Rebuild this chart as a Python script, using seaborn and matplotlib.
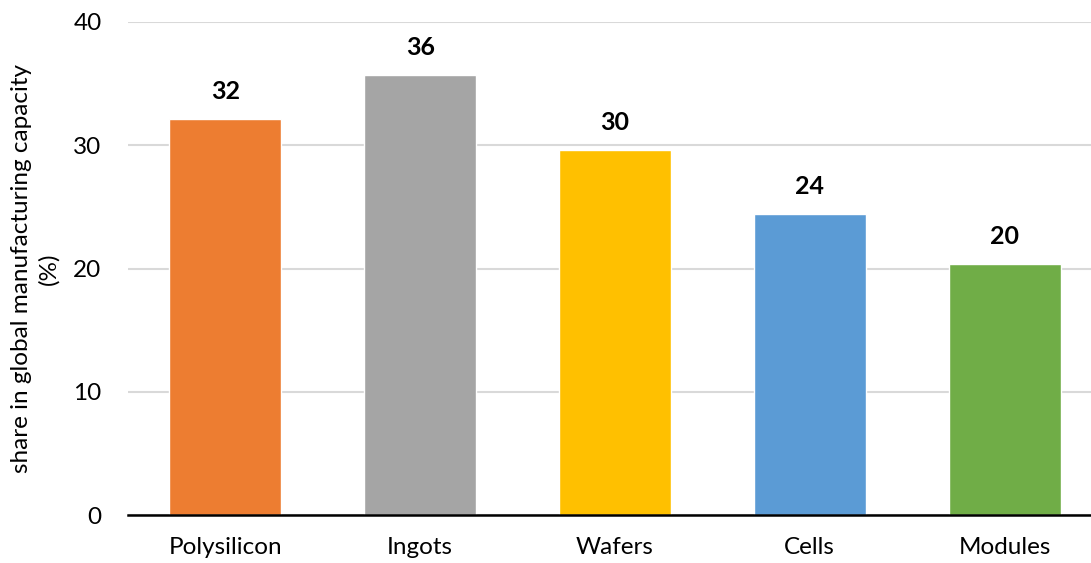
import matplotlib
matplotlib.use("Agg")
import matplotlib.pyplot as plt
import seaborn as sns
import pandas as pd

# Share of global PV manufacturing capacity by supply-chain stage
stages = ["Polysilicon", "Ingots", "Wafers", "Cells", "Modules"]
share = [32.1, 35.7, 29.6, 24.4, 20.4]
colors = ["#ED7D31", "#A5A5A5", "#FFC000", "#5B9BD5", "#70AD47"]
y_ticks = [0, 10, 20, 30, 40]

sns.set_theme(style="white")
plt.rcParams["font.family"] = ["Lato", "DejaVu Sans"]

df = pd.DataFrame({"stage": stages, "share": share})

fig = plt.figure(figsize=(10.91, 5.63), dpi=100)
ax = fig.add_axes([128 / 1091, 48 / 563, 974 / 1091, 493 / 563])

sns.barplot(data=df, x="stage", y="share", hue="stage", palette=colors,
            width=0.575, legend=False, ax=ax, saturation=1, zorder=3)

for i, v in enumerate(share):
    ax.text(i, v + 1.3, f"{v:.0f}", ha="center", va="bottom",
            fontsize=18, fontweight="bold", color="#000000")

ax.set_ylim(0, 40)
ax.set_xlim(-0.5, 4.5)
ax.set_yticks(y_ticks)
ax.yaxis.grid(True, color="#D9D9D9", linewidth=1.5, zorder=0)
ax.set_axisbelow(True)
for side in ["top", "right", "left"]:
    ax.spines[side].set_visible(False)
ax.spines["bottom"].set_color("#000000")
ax.spines["bottom"].set_linewidth(1.8)
ax.spines["bottom"].set_zorder(4)
ax.tick_params(axis="both", length=0, labelsize=17.5, colors="#000000")
ax.tick_params(axis="x", pad=16)
ax.tick_params(axis="y", pad=19)
ax.set_xlabel("")
ax.set_ylabel("share in global manufacturing capacity\n(%)", fontsize=17.5,
              color="#000000", linespacing=1.35, labelpad=10)

fig.savefig("out.png", dpi=100)
